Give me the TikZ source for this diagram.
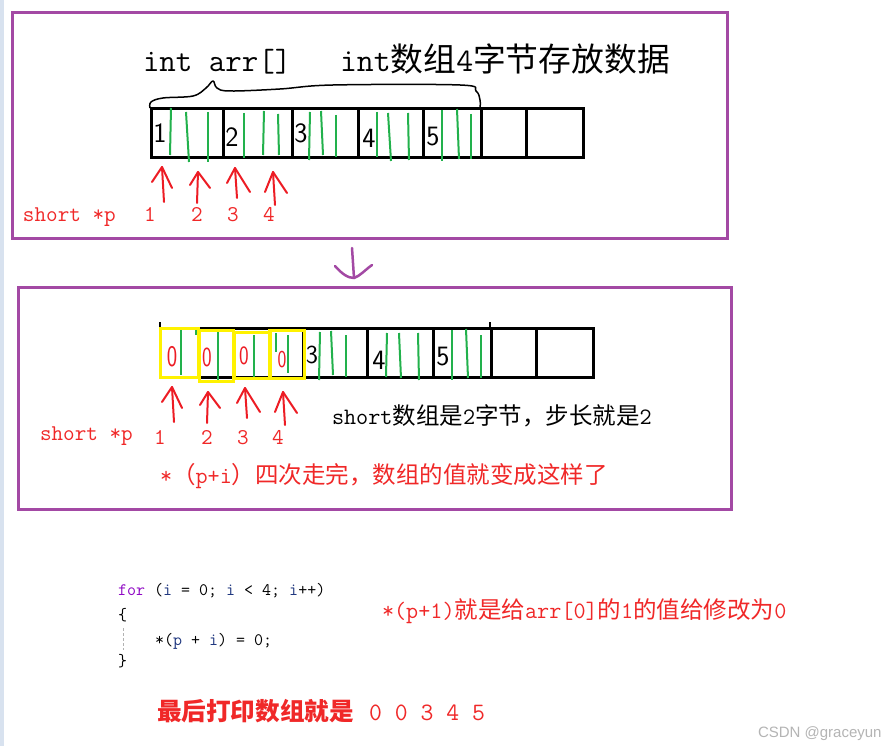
\documentclass[tikz,border=0pt]{standalone}
\usepackage{fontspec}
\newfontfamily\cjk{Noto Sans CJK SC}
\newfontfamily\wmfont{Liberation Sans}
\newcommand\myfs[1]{\fontsize{#1}{#1}\selectfont}
\definecolor{pur}{HTML}{A349A4}
\definecolor{pgreen}{HTML}{22B14C}
\definecolor{pyellow}{HTML}{FFF200}
\definecolor{pred}{HTML}{ED1C24}
\definecolor{tred}{HTML}{F02828}
\definecolor{kw}{HTML}{8F08C4}
\definecolor{var}{HTML}{1F377F}
\definecolor{strip}{HTML}{D8E2EF}
\definecolor{wmgray}{HTML}{B4B4B4}
\tikzset{
  txt/.style={inner sep=0pt, outer sep=0pt, anchor=base west},
  ctr/.style={inner sep=0pt, outer sep=0pt, anchor=center},
  frame/.style={draw=pur, line width=3pt},
  cellline/.style={draw=black, line width=3pt},
  gline/.style={draw=pgreen, line width=2pt},
  ybox/.style={draw=pyellow, line width=3pt},
  rarrow/.style={draw=pred, line width=2pt, line cap=round, line join=round},
}
\begin{document}
\begin{tikzpicture}[x=1pt,y=-1pt]
\useasboundingbox (0,0) rectangle (889,746);
\fill[white] (0,0) rectangle (889,746);
\fill[strip] (0,0) rectangle (4,746);

% ---------- frames ----------
\draw[frame] (12,13) rectangle (727,239);
\draw[frame] (18,287) rectangle (731,509);

% purple down arrow between frames
\coordinate (pa) at (352,248);
\coordinate (pb) at (354,278);
\draw[draw=pur, line width=2.5pt, line cap=round] (pa) -- (pb);
\draw[draw=pur, line width=2.5pt, line cap=round, line join=round]
  (335,266) .. controls (342,274) and (348,278) .. (354,278)
  .. controls (360,276) and (365,270) .. (372,265);

% ---------- title ----------
\node[txt] (t1) at (143,72) {\myfs{32}\ttfamily int arr[]};
\node[txt] (t2) at (340,72) {\myfs{32.8}\ttfamily int\cjk 数组\ttfamily 4\cjk 字节存放数据};

% brace
\draw[line width=1.5pt, line join=round] plot[smooth, tension=0.6] coordinates
  {(150,108) (151,102) (163,98) (193,96) (206,88) (213,81) (217,88) (230,91) (280,89) (333,85) (460,85) (476,91) (480,100) (480,108)};

% ---------- array 1 ----------
\draw[cellline] (151,109) rectangle (583,158);
\foreach \x in {223,292,358,423,481,526} \draw[cellline] (\x,109) -- (\x,158);
\foreach \a/\b/\c/\d in {171/108/170/155, 186/112/189/162, 208/112/208/162,
  244/113/244/158, 264/111/263/155, 278/114/279/155,
  310/112/309/160, 321/111/323/155, 336/115/336/157,
  377/112/377/157, 388/113/391/161, 408/113/409/160,
  442/110/442/161, 457/109/459/159, 471/114/471/159}
  \draw[gline] (\a,\b) -- (\c,\d);
\node[ctr] (d1) at (160,133) {\myfs{28}\sffamily 1};
\node[ctr] (d2) at (232,137) {\myfs{28}\sffamily 2};
\node[ctr] (d3) at (301,133) {\myfs{28}\sffamily 3};
\node[ctr] (d4) at (369,138) {\myfs{28}\sffamily 4};
\node[ctr] (d5) at (433,137) {\myfs{28}\sffamily 5};

% arrows 1
\foreach \tx/\ty/\bx/\by/\lx/\ly/\rx/\ry [count=\k] in {
  162/167/164/202/152/182/172/188,
  198/172/197/203/190/185/210/188,
  235/168/237/198/227/183/250/192,
  273/172/275/205/265/192/287/193}{
  \coordinate (ta\k) at (\tx,\ty);
  \draw[rarrow] (\bx,\by) -- (ta\k);
  \draw[rarrow] (\lx,\ly) -- (ta\k) -- (\rx,\ry);
}
\node[txt,text=tred] (sp1) at (23,222) {\myfs{22.5}\ttfamily short *p};
\node[txt,text=tred] (n11) at (144,222) {\myfs{22.5}\ttfamily 1};
\node[txt,text=tred] (n12) at (191,222) {\myfs{22.5}\ttfamily 2};
\node[txt,text=tred] (n13) at (227,222) {\myfs{22.5}\ttfamily 3};
\node[txt,text=tred] (n14) at (263,222) {\myfs{22.5}\ttfamily 4};

% ---------- array 2 ----------
\draw[cellline] (160,328) rectangle (593,377);
\foreach \x in {303,367,433,491,536} \draw[cellline] (\x,328) -- (\x,377);
\draw[line width=1.5pt] (160,322) -- (160,328);
\draw[line width=1.5pt] (490,322) -- (490,328);
\foreach \a/\b/\c/\d in {181/330/181/375, 196/330/196/335, 218/332/218/380,
  254/335/254/377, 276/333/276/352, 288/335/288/373,
  320/332/319/380, 331/331/333/375, 346/335/346/377,
  387/333/386/377, 399/333/401/378, 418/333/419/380,
  452/330/452/380, 466/329/468/378, 481/335/481/378}
  \draw[gline] (\a,\b) -- (\c,\d);
\draw[ybox] (160,328) rectangle (198,377);
\draw[ybox] (199,330) rectangle (233,381);
\draw[ybox] (234,332) rectangle (270,378);
\draw[ybox] (269,330) rectangle (304,378);
\node[ctr,text=pred] (z1) at (172,357) {\myfs{26}\sffamily\scalebox{0.85}[1.15]{0}};
\node[ctr,text=pred] (z2) at (207,357) {\myfs{24}\sffamily\scalebox{0.85}[1.15]{0}};
\node[ctr,text=pred] (z3) at (244,356) {\myfs{24}\sffamily\scalebox{0.85}[1.1]{0}};
\node[ctr,text=pred] (z4) at (282,360) {\myfs{22}\sffamily\scalebox{0.85}[1.1]{0}};
\node[ctr] (e3) at (312,355) {\myfs{26}\sffamily 3};
\node[ctr] (e4) at (379,360) {\myfs{28}\sffamily 4};
\node[ctr] (e5) at (443,357) {\myfs{28}\sffamily 5};

% arrows 2
\foreach \tx/\ty/\bx/\by/\lx/\ly/\rx/\ry [count=\k] in {
  172/387/174/422/162/402/182/408,
  208/392/207/423/200/405/220/408,
  245/388/247/418/237/403/260/412,
  283/392/285/425/275/412/297/413}{
  \coordinate (tb\k) at (\tx,\ty);
  \draw[rarrow] (\bx,\by) -- (tb\k);
  \draw[rarrow] (\lx,\ly) -- (tb\k) -- (\rx,\ry);
}
\node[txt,text=tred] (sp2) at (40,440) {\myfs{22.5}\ttfamily short *p};
\node[txt,text=tred] (n21) at (154,444) {\myfs{22.5}\ttfamily 1};
\node[txt,text=tred] (n22) at (201,444) {\myfs{22.5}\ttfamily 2};
\node[txt,text=tred] (n23) at (237,444) {\myfs{22.5}\ttfamily 3};
\node[txt,text=tred] (n24) at (272,444) {\myfs{22.5}\ttfamily 4};

\node[txt] (s2) at (332,424) {\myfs{23.5}\ttfamily short\cjk 数组是\ttfamily 2\cjk 字节，步长就是\ttfamily 2};
\node[txt,text=tred] (s3) at (160,483) {\myfs{23.5}\ttfamily *\cjk （\ttfamily p+i\cjk ）四次走完，数组的值就变成这样了};

% ---------- code ----------
\node[txt] (c1) at (118,595) {\myfs{17.5}\ttfamily{\color{kw}for} ({\color{var}i} = 0; {\color{var}i} < 4; {\color{var}i}++)};
\node[txt] (c2) at (118,620) {\myfs{17.5}\ttfamily \{};
\draw[gray!60, line width=1pt, dash pattern=on 3pt off 2pt] (123,628) -- (123,650);
\node[txt] (c3) at (155,645) {\myfs{17.5}\ttfamily *({\color{var}p} + {\color{var}i}) = 0;};
\node[txt] (c4) at (118,666) {\myfs{17.5}\ttfamily \}};

\node[txt,text=tred] (note) at (382,618) {\myfs{23.5}\ttfamily *(p+1)\cjk 就是给\ttfamily arr[0]\cjk 的\ttfamily 1\cjk 的值给修改为\ttfamily 0};

\node[txt,text=tred] (fin) at (157,720) {\myfs{24.6}\cjk\bfseries 最后打印数组就是};
\node[txt,text=tred] (fin2) at (369,720) {\myfs{25}\ttfamily 0 0 3 4 5};

\node[txt,text=wmgray] (wm) at (758,737) {\myfs{15}\wmfont CSDN @graceyun};
\end{tikzpicture}
\end{document}
